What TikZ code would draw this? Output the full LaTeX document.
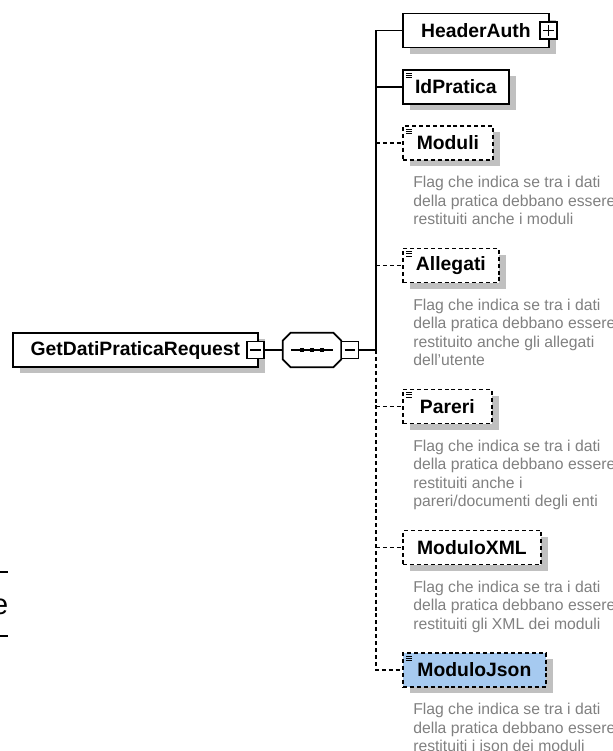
\documentclass[tikz,border=0pt]{standalone}
\usepackage{fontspec}
\setmainfont{Liberation Sans}
\usetikzlibrary{positioning, shadows}
\definecolor{shadowgray}{RGB}{192,192,192}
\definecolor{notegray}{RGB}{128,128,128}
\definecolor{selblue}{RGB}{166,202,240}
\tikzset{
        elem/.style={rectangle, draw, fill=white, line width=1.35pt, minimum height=25.5pt, inner sep=0pt, anchor=west, font=\fontsize{14.5}{16}\selectfont\bfseries, drop shadow={shadow xshift=5.25pt, shadow yshift=-4.5pt, fill=shadowgray, opacity=1}},
        optelem/.style={elem, dash pattern=on 3pt off 2.2pt},
        simple/.style={path picture={\foreach \k in {0,1,2} \draw[solid, line width=0.6pt] ([xshift=2.2pt, yshift={-2.4pt-1.6pt*\k}]path picture bounding box.north west) -- ++(4.8pt,0pt);}},
        togglebox/.style={rectangle, draw, fill=white, line width=1pt, minimum size=12.75pt, inner sep=0pt},
        minusbox/.style={togglebox, path picture={\draw[line width=0.9pt] ([xshift=2.4pt]path picture bounding box.west) -- ([xshift=-2.4pt]path picture bounding box.east);}},
        plusbox/.style={togglebox, path picture={\draw[line width=0.9pt] ([xshift=2.4pt]path picture bounding box.west) -- ([xshift=-2.4pt]path picture bounding box.east); \draw[line width=0.9pt] ([yshift=2.4pt]path picture bounding box.south) -- ([yshift=-2.4pt]path picture bounding box.north);}},
        seqbox/.style={rectangle, minimum width=43.5pt, minimum height=25.5pt, inner sep=0pt},
        note/.style={anchor=north west, inner sep=0pt, align=left, text=notegray, font=\fontsize{11.8}{13.95}\selectfont},
        link/.style={line width=1.35pt},
        optlink/.style={link, dash pattern=on 3pt off 2.2pt},
    }

\begin{document}
\begin{tikzpicture}[x=0.75pt, y=-0.75pt]
        \useasboundingbox (0,0) rectangle (612,751);
        \clip (0,0) rectangle (612,751);

        % === ROOT AND SEQUENCE ===
        \node[elem, minimum width=183.75pt] (root) at (12,350) {GetDatiPraticaRequest};
        \node[minusbox] (rootminus) at (255.5,350) {};
        \node[seqbox] (seq) at (312,350) {};
        \coordinate (fork) at (376,350);

        % octagon of the sequence, shadow first
        \fill[shadowgray, shift={(7,6)}] ([xshift=6pt]seq.north west) -- ([xshift=-6pt]seq.north east) -- ([yshift=-6pt]seq.north east) -- ([yshift=6pt]seq.south east) -- ([xshift=-6pt]seq.south east) -- ([xshift=6pt]seq.south west) -- ([yshift=6pt]seq.south west) -- ([yshift=-6pt]seq.north west) -- cycle;
        \draw[link, fill=white] ([xshift=6pt]seq.north west) -- ([xshift=-6pt]seq.north east) -- ([yshift=-6pt]seq.north east) -- ([yshift=6pt]seq.south east) -- ([xshift=-6pt]seq.south east) -- ([xshift=6pt]seq.south west) -- ([yshift=6pt]seq.south west) -- ([yshift=-6pt]seq.north west) -- cycle;
        \draw[line width=1pt] ([xshift=-15.4pt]seq.center) -- ([xshift=15.4pt]seq.center);
        \foreach \dx in {-7.5pt,0pt,7.5pt}
            \fill ([xshift=\dx]seq.center) +(-1.6pt,-1.3pt) rectangle +(1.6pt,1.3pt);
        \node[minusbox] (seqminus) at (350,350) {};

        \draw[link] (rootminus) -- (seq);

        % === CHILDREN ===
        \node[elem, minimum width=109.5pt] (headerauth) at (402,30.5) {HeaderAuth\hspace{6pt}};
        \node[plusbox] (headerplus) at (548.5,30.5) {};
        \node[elem, simple, minimum width=79.5pt] (idpratica) at (402,87) {IdPratica};

        \node[optelem, simple, minimum width=67.5pt] (moduli) at (402,143) {Moduli};
        \node[note, below right=11.25pt and 8.25pt of moduli.south west] (modulinote) {Flag che indica se tra i dati\\della pratica debbano essere\\restituiti anche i moduli};

        \node[optelem, simple, minimum width=72pt] (allegati) at (402,265.5) {Allegati};
        \node[note, below right=11.25pt and 8.25pt of allegati.south west] (allegatinote) {Flag che indica se tra i dati\\della pratica debbano essere\\restituito anche gli allegati\\dell'utente};

        \node[optelem, simple, minimum width=66.75pt] (pareri) at (402,406.5) {Pareri};
        \node[note, below right=11.25pt and 8.25pt of pareri.south west] (parerinote) {Flag che indica se tra i dati\\della pratica debbano essere\\restituiti anche i\\pareri/documenti degli enti};

        \node[optelem, minimum width=103.5pt] (moduloxml) at (402,547.5) {ModuloXML};
        \node[note, below right=11.25pt and 8.25pt of moduloxml.south west] (moduloxmlnote) {Flag che indica se tra i dati\\della pratica debbano essere\\restituiti gli XML dei moduli};

        \node[optelem, simple, fill=selblue, minimum width=107.25pt] (modulojson) at (402,670) {ModuloJson};
        \node[note, below right=11.25pt and 8.25pt of modulojson.south west] (modulojsonnote) {Flag che indica se tra i dati\\della pratica debbano essere\\restituiti i json dei moduli};

        % === CONNECTORS ===
        \draw[link] (seqminus) -- (fork) -- (fork |- headerauth.west) -- (headerauth);
        \draw[link] (fork |- idpratica.west) -- (idpratica);
        \draw[optlink] (fork) -- (fork |- modulojson.west) -- (modulojson);
        \foreach \n in {moduli, allegati, pareri, moduloxml}
            \draw[optlink] (fork |- \n.west) -- (\n);

        % edge of the page beside
        \draw[line width=1.5pt] (0,572) -- (8,572);
        \draw[line width=1.5pt] (0,636) -- (8,636);
        \node[anchor=east, inner sep=0pt, font=\fontsize{21.7}{24}\selectfont] (pagee) at (8.5,607) {e};

\end{tikzpicture}
\end{document}
